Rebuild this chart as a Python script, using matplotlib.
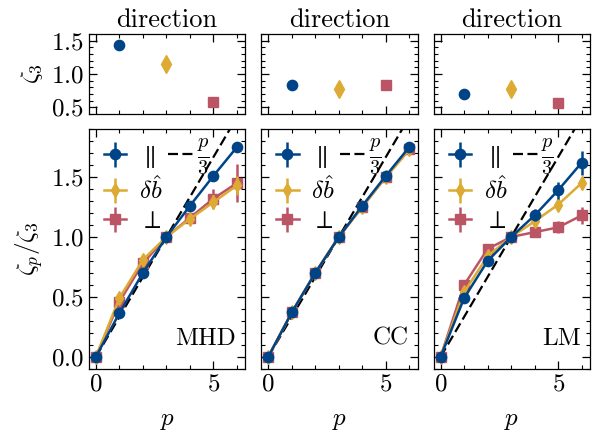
"""Structure function exponents zeta_p / zeta_3 for three runs, by direction."""
import matplotlib
matplotlib.use("Agg")
import matplotlib.pyplot as plt
import numpy as np
from matplotlib.lines import Line2D
from matplotlib.ticker import MultipleLocator

plt.rcParams.update({
    "font.family": "serif",
    "font.serif": ["cmr10"],
    "mathtext.fontset": "cm",
    "axes.formatter.use_mathtext": True,
    "font.size": 18,
    "axes.linewidth": 0.9,
    "xtick.direction": "in",
    "ytick.direction": "in",
    "xtick.top": True,
    "ytick.right": True,
    "xtick.major.size": 5.5,
    "ytick.major.size": 5.5,
    "xtick.minor.size": 2.8,
    "ytick.minor.size": 2.8,
    "xtick.major.width": 0.9,
    "ytick.major.width": 0.9,
    "xtick.minor.width": 0.8,
    "ytick.minor.width": 0.8,
})

BLUE, YELLOW, RED = "#004488", "#DDAA33", "#BB5566"

runs = ["MHD", "CC", "LM"]
p = np.arange(7)

# zeta_3 for each direction: parallel, delta b, perpendicular
dir_pos = [1, 3, 5]
zeta3 = {
    "MHD": [1.43, 1.15, 0.58],
    "CC": [0.83, 0.78, 0.84],
    "LM": [0.70, 0.77, 0.56],
}

# zeta_p / zeta_3, p = 0..6
par = {
    "MHD": [0.0, 0.365, 0.70, 1.0, 1.26, 1.51, 1.75],
    "CC": [0.0, 0.37, 0.70, 1.0, 1.26, 1.51, 1.75],
    "LM": [0.0, 0.49, 0.80, 1.0, 1.18, 1.39, 1.62],
}
par_err = {
    "MHD": [0.0, 0.01, 0.01, 0.0, 0.02, 0.03, 0.04],
    "CC": [0.0, 0.01, 0.01, 0.0, 0.01, 0.02, 0.03],
    "LM": [0.0, 0.01, 0.02, 0.0, 0.05, 0.07, 0.10],
}
db = {
    "MHD": [0.0, 0.49, 0.81, 1.0, 1.15, 1.29, 1.43],
    "CC": [0.0, 0.37, 0.70, 1.0, 1.25, 1.50, 1.73],
    "LM": [0.0, 0.54, 0.84, 1.0, 1.13, 1.27, 1.45],
}
db_err = {
    "MHD": [0.0, 0.02, 0.02, 0.0, 0.04, 0.06, 0.08],
    "CC": [0.0, 0.01, 0.01, 0.0, 0.01, 0.02, 0.03],
    "LM": [0.0, 0.01, 0.02, 0.0, 0.03, 0.04, 0.05],
}
perp = {
    "MHD": [0.0, 0.46, 0.78, 1.0, 1.16, 1.32, 1.45],
    "CC": [0.0, 0.37, 0.70, 1.0, 1.25, 1.50, 1.73],
    "LM": [0.0, 0.60, 0.90, 1.0, 1.04, 1.08, 1.18],
}
perp_err = {
    "MHD": [0.0, 0.02, 0.02, 0.0, 0.04, 0.08, 0.16],
    "CC": [0.0, 0.01, 0.01, 0.0, 0.01, 0.02, 0.03],
    "LM": [0.0, 0.02, 0.02, 0.0, 0.03, 0.05, 0.07],
}


def main() -> None:
    fig = plt.figure(figsize=(5.92, 4.36), dpi=100)
    gs = fig.add_gridspec(2, 3, height_ratios=[1, 3], left=0.150, right=0.997,
                          top=0.922, bottom=0.154, wspace=0.1, hspace=0.094)

    lw, ms = 1.8, 7.4
    for i, run in enumerate(runs):
        ax_t = fig.add_subplot(gs[0, i])
        ax_b = fig.add_subplot(gs[1, i], sharex=ax_t)

        # top: zeta_3 per direction
        for x, z, c, m in zip(dir_pos, zeta3[run], [BLUE, YELLOW, RED], ["o", "d", "s"]):
            ax_t.plot(x, z, marker=m, color=c, ms=ms if m != "d" else ms + 1.5, ls="none")
        ax_t.set_ylim(0.4, 1.6)
        ax_t.set_xticks(dir_pos)
        ax_t.tick_params(axis="x", which="both", labelbottom=False)
        ax_t.xaxis.set_minor_locator(plt.NullLocator())
        ax_t.yaxis.set_major_locator(MultipleLocator(0.5))
        ax_t.yaxis.set_minor_locator(MultipleLocator(0.1))
        ax_t.set_title("direction", fontsize=19, pad=5)
        if i == 0:
            ax_t.set_ylabel(r"$\zeta_3$")
        else:
            ax_t.tick_params(axis="y", labelleft=False)

        # bottom: zeta_p / zeta_3
        ax_b.plot(p, p / 3, color="k", lw=1.6, dashes=(4.5, 2), zorder=1)
        h_perp = ax_b.errorbar(p, perp[run], yerr=perp_err[run], color=RED, marker="s",
                               ms=ms, lw=lw, elinewidth=lw, capsize=0, zorder=2)
        h_db = ax_b.errorbar(p, db[run], yerr=db_err[run], color=YELLOW, marker="d",
                             ms=ms, lw=lw, elinewidth=lw, capsize=0, zorder=3)
        h_par = ax_b.errorbar(p, par[run], yerr=par_err[run], color=BLUE, marker="o",
                              ms=ms, lw=lw, elinewidth=lw, capsize=0, zorder=4)
        leg = ax_b.legend([h_par, h_db, h_perp],
                          [r"$\parallel$", r"$\delta\hat{b}$", r"$\perp$"],
                          loc="upper left", frameon=False, handlelength=0.9,
                          handletextpad=0.5, labelspacing=0.25,
                          borderaxespad=0.4, borderpad=0.2, fontsize=18)
        ax_b.add_artist(leg)
        h_dash = Line2D([], [], color="k", lw=1.6, dashes=(4.5, 2))
        leg2 = ax_b.legend([h_dash], [r"$\frac{p}{3}$"], loc="center left",
                           bbox_to_anchor=(0.505, 0.885), frameon=False, handlelength=1.05,
                           handletextpad=0.1, borderaxespad=0.0, borderpad=0.0, fontsize=18)
        leg2.get_texts()[0].set_fontsize(21)
        ax_b.text(0.94, 0.08, run, transform=ax_b.transAxes, ha="right", va="bottom", fontsize=18)
        ax_b.set_ylim(-0.1, 1.9)
        ax_b.set_xlim(-0.3, 6.36)
        ax_b.set_xticks([0, 5])
        ax_b.xaxis.set_minor_locator(MultipleLocator(1))
        ax_b.yaxis.set_major_locator(MultipleLocator(0.5))
        ax_b.yaxis.set_minor_locator(MultipleLocator(0.1))
        ax_b.set_xlabel(r"$p$", labelpad=10)
        if i == 0:
            ax_b.set_ylabel(r"$\zeta_p/\zeta_3$")
        else:
            ax_b.tick_params(axis="y", labelleft=False)

    fig.savefig("out.png", dpi=100)
    plt.close(fig)


if __name__ == "__main__":
    main()
